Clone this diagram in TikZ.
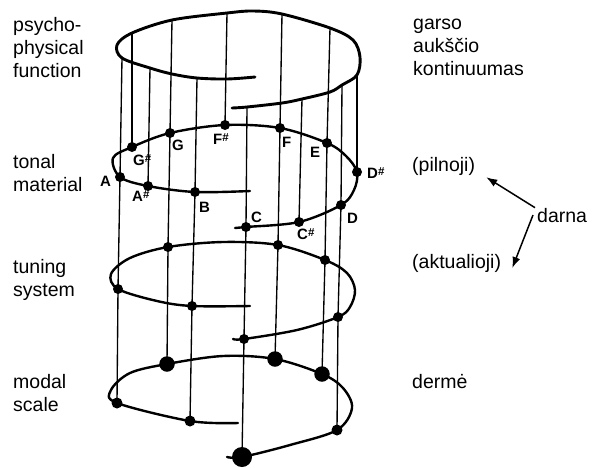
\documentclass[tikz,border=0pt]{standalone}
\usepackage{fontspec}
\setmainfont{Liberation Sans}
\usetikzlibrary{arrows.meta}
\newcommand\mylines[1]{\begin{tabular}[t]{@{}l@{}}#1\end{tabular}}
\newcommand\shp{\raisebox{3pt}{\fontsize{11.5}{11.5}\selectfont\bfseries\#}}
\begin{document}
\begin{tikzpicture}[x=1pt,y=-1pt,
  side/.style={anchor=base west,inner sep=0,font=\fontsize{19.5}{23}\selectfont},
  note/.style={anchor=west,inner sep=0,font=\bfseries\fontsize{15}{15}\selectfont},
  ring/.style={line width=2.4pt,line cap=round,line join=round},
  topring/.style={line width=2.9pt,line cap=round,line join=round},
  stem/.style={line width=1.35pt},
  dotS/.style={circle,fill=black,inner sep=0,minimum size=10pt},
  dotM/.style={circle,fill=black,inner sep=0,minimum size=15.5pt},
  dotL/.style={circle,fill=black,inner sep=0,minimum size=20pt},
  dotB/.style={circle,fill=black,inner sep=0,minimum size=11pt},
  arr/.style={line width=1.5pt,-{Latex[length=11pt,width=8pt]}}]
\useasboundingbox (0,0) rectangle (597,467);

% ---------- top ring (line tops) ----------
\coordinate (T-A)  at (122,58);
\coordinate (T-Gs) at (132,33);
\coordinate (T-As) at (150,68);
\coordinate (T-G)  at (172,20);
\coordinate (T-B)  at (197,78);
\coordinate (T-Fs) at (227,13);
\coordinate (T-C)  at (247,107);
\coordinate (T-F)  at (282,14);
\coordinate (T-Cs) at (302,99);
\coordinate (T-E)  at (330,28);
\coordinate (T-D)  at (342,85);
\coordinate (T-Ds) at (357,75);

% ---------- tonal material ----------
\coordinate (N-C)  at (246,227);
\coordinate (N-Cs) at (299,222);
\coordinate (N-D)  at (341,205);
\coordinate (N-Ds) at (357,172);
\coordinate (N-E)  at (327,143);
\coordinate (N-F)  at (280,128);
\coordinate (N-Fs) at (225,125);
\coordinate (N-G)  at (170,133);
\coordinate (N-Gs) at (132,147);
\coordinate (N-A)  at (120,177);
\coordinate (N-As) at (148,186);
\coordinate (N-B)  at (195,192);

% ---------- tuning system ----------
\coordinate (U-C) at (244,339);
\coordinate (U-D) at (338,317);
\coordinate (U-E) at (325,260);
\coordinate (U-F) at (278,245);
\coordinate (U-G) at (168,247);
\coordinate (U-A) at (118,289);
\coordinate (U-B) at (192,306);

% ---------- modal scale ----------
\coordinate (M-C) at (242,457);
\coordinate (M-D) at (337,430);
\coordinate (M-E) at (322,374);
\coordinate (M-F) at (275,359);
\coordinate (M-G) at (167,364);
\coordinate (M-A) at (117,403);
\coordinate (M-B) at (190,421);

% ---------- vertical lines ----------
\foreach \n in {C,D,E,F,G,A,B}
  \draw[stem] (T-\n) -- (N-\n) -- (U-\n) -- (M-\n);
\foreach \n in {Cs,Ds,Fs,Gs,As}
  \draw[stem] (T-\n) -- (N-\n);

% ---------- rings ----------
\draw[topring] plot[smooth,tension=0.55] coordinates {(232,108) (T-C) (282,103) (T-Cs) (330,92) (T-D) (T-Ds) (360,57) (353,40) (T-E) (T-F) (253,11) (T-Fs) (T-G) (T-Gs) (117,45) (T-A) (T-As) (172,74) (T-B) (227,79) (255,77)};
\draw[ring] plot[smooth,tension=0.55] coordinates {(235,228) (N-C) (N-Cs) (N-D) (354,190) (N-Ds) (346,156) (N-E) (N-F) (N-Fs) (N-G) (N-Gs) (113,158) (N-A) (N-As) (N-B) (250,191)};
\draw[ring] plot[smooth,tension=0.55] coordinates {(233,339) (U-C) (297,330) (U-D) (350,307) (355,290) (347,273) (U-E) (U-F) (223,242) (U-G) (130,258) (111,274) (U-A) (157,301) (U-B) (250,306)};
\draw[ring] plot[smooth,tension=0.55] coordinates {(227,457) (M-C) (290,445) (M-D) (352,408) (343,388) (M-E) (M-F) (223,356) (M-G) (130,373) (111,390) (M-A) (M-B) (238,423)};

% ---------- dots ----------
\foreach \n in {C,Cs,D,Ds,E,F,Fs,G,Gs,A,As,B}
  \node[dotS] (n\n) at (N-\n) {};
\foreach \n in {C,D,E,F,G,A,B}
  \node[dotS] (u\n) at (U-\n) {};
\node[dotL] (mC) at (M-C) {};
\foreach \n in {E,F,G}
  \node[dotM] (m\n) at (M-\n) {};
\foreach \n in {D,A,B}
  \node[dotB] (m\n) at (M-\n) {};

% ---------- note labels ----------
\node[note] (lGs) at (133,160) {G\shp};
\node[note] (lG)  at (172,145) {G};
\node[note] (lFs) at (213,139) {F\shp};
\node[note] (lF)  at (282,142) {F};
\node[note] (lE)  at (310,152) {E};
\node[note] (lDs) at (367,173) {D\shp};
\node[note] (lA)  at (100,181) {A};
\node[note] (lAs) at (132,196) {A\shp};
\node[note] (lB)  at (199,207) {B};
\node[note] (lC)  at (251,217) {C};
\node[note] (lD)  at (347,218) {D};
\node[note] (lCs) at (297,234) {C\shp};

% ---------- side texts ----------
\node[side] (psy) at (13,31)  {\mylines{psycho-\\physical\\function}};
\node[side] (ton) at (13,168) {\mylines{tonal\\material}};
\node[side] (tun) at (13,273) {\mylines{tuning\\system}};
\node[side] (mod) at (13,388) {\mylines{modal\\scale}};
\node[side] (gar) at (413,29) {\mylines{garso\\auk\v{s}\v{c}io\\kontinuumas}};
\node[side] (pil) at (412,171) {(pilnoji)};
\node[side] (dar) at (537,222) {darna};
\node[side] (akt) at (412,268) {(aktualioji)};
\node[side] (der) at (412,388) {dermė};

\draw[arr] ([xshift=-2pt]dar.north west) -- ([xshift=11pt,yshift=-2pt]pil.south east);
\draw[arr] ([xshift=-4pt]dar.west) -- ([xshift=11pt]akt.base east);
\end{tikzpicture}
\end{document}
